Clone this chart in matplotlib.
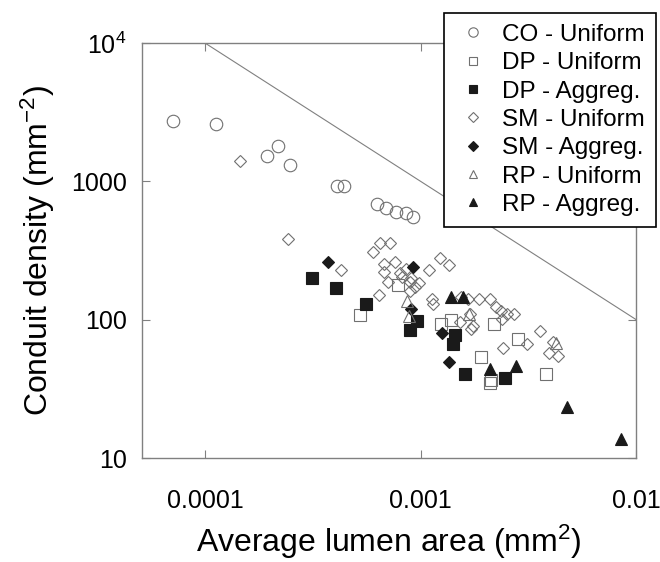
import numpy as np
import matplotlib
matplotlib.use('Agg')
import matplotlib.pyplot as plt
from matplotlib.ticker import FixedLocator, FixedFormatter, NullLocator

plt.rcParams['font.family'] = ['Liberation Sans', 'DejaVu Sans']
plt.rcParams['mathtext.fontset'] = 'custom'
plt.rcParams['mathtext.rm'] = 'Liberation Sans'
plt.rcParams['mathtext.it'] = 'Liberation Sans'

# CO - Uniform
co_uni_x = [7.09e-5, 1.12e-4, 1.93e-4, 2.18e-4, 2.48e-4, 4.11e-4, 4.43e-4,
            6.28e-4, 6.88e-4, 7.66e-4, 8.55e-4, 9.18e-4]
co_uni_y = [2735, 2618, 1517, 1802, 1306, 931, 931, 685, 645, 600, 586, 548]

# DP - Uniform
dp_uni_x = [5.26e-4, 7.88e-4, 1.24e-3, 1.39e-3, 2.18e-3, 2.84e-3, 1.91e-3,
            2.12e-3, 2.10e-3, 3.82e-3]
dp_uni_y = [109, 179, 92.5, 100, 93.5, 72.5, 54, 36.7, 34.6, 40.8]

# DP - Aggreg.
dp_agg_x = [3.14e-4, 4.07e-4, 5.61e-4, 9.61e-4, 8.97e-4, 1.44e-3, 1.41e-3,
            1.60e-3, 2.46e-3]
dp_agg_y = [199, 170, 129, 98.4, 84.7, 77.8, 66.7, 40.8, 37.6]

# SM - Uniform
sm_uni_x = [1.45e-4, 2.42e-4, 4.26e-4, 6.01e-4, 6.48e-4, 7.24e-4, 6.76e-4,
            7.64e-4, 6.74e-4, 7.08e-4, 8.02e-4, 8.59e-4, 6.41e-4, 8.89e-4,
            9.44e-4, 9.79e-4, 1.09e-3, 1.23e-3, 1.36e-3, 1.13e-3, 1.14e-3,
            1.54e-3, 1.66e-3, 1.87e-3, 2.09e-3, 2.24e-3, 2.35e-3, 2.51e-3,
            2.70e-3, 2.38e-3, 1.69e-3, 1.75e-3, 1.71e-3, 1.52e-3, 2.40e-3,
            3.13e-3, 3.58e-3, 4.10e-3, 3.93e-3, 4.35e-3, 8.96e-4, 8.23e-4,
            9.06e-4]
sm_uni_y = [1403, 386, 229, 308, 360, 360, 253, 263, 220, 188, 217, 233,
            150, 186, 171, 185, 229, 280, 249, 141, 130, 145, 141, 140, 140,
            123, 116, 110, 110, 101, 110, 90.5, 85.7, 95.5, 62, 66.7, 82.3,
            68.6, 57, 54.8, 162, 204, 201]

# SM - Aggreg.
sm_agg_x = [3.72e-4, 9.25e-4, 8.99e-4, 1.26e-3, 1.35e-3]
sm_agg_y = [260, 239, 120, 80, 49.6]

# RP - Uniform
rp_uni_x = [8.65e-4, 8.80e-4, 1.67e-3, 4.25e-3]
rp_uni_y = [137, 107, 110, 67.3]

# RP - Aggreg.
rp_agg_x = [1.39e-3, 1.58e-3, 2.09e-3, 2.76e-3, 4.79e-3, 8.52e-3]
rp_agg_y = [147, 147, 44, 46.4, 23.4, 13.7]

# reference line
line_x = [1e-4, 1e-2]
line_y = [1e4, 100]

y_ticks = [10, 100, 1000, 10000]
y_tick_labels = ['10', '100', '1000', r'$\mathregular{10^4}$']
x_ticks = [1e-4, 1e-3, 1e-2]
x_tick_labels = ['0.0001', '0.001', '0.01']

fig = plt.figure(figsize=(6.6, 5.62), dpi=100)
ax = fig.add_axes([0.215, 0.185, 0.749, 0.7385])

gray = '#707070'
dark = '#1a1a1a'

ax.plot(line_x, line_y, color='#808080', lw=0.8, zorder=1)

series = [
    (co_uni_x, co_uni_y, 'o', 'none', gray, 9, 'CO - Uniform'),
    (dp_uni_x, dp_uni_y, 's', 'none', gray, 8.5, 'DP - Uniform'),
    (dp_agg_x, dp_agg_y, 's', dark, dark, 8.5, 'DP - Aggreg.'),
    (sm_uni_x, sm_uni_y, 'D', 'none', gray, 6.5, 'SM - Uniform'),
    (sm_agg_x, sm_agg_y, 'D', dark, dark, 6.5, 'SM - Aggreg.'),
    (rp_uni_x, rp_uni_y, '^', 'none', gray, 8, 'RP - Uniform'),
    (rp_agg_x, rp_agg_y, '^', dark, dark, 8, 'RP - Aggreg.'),
]
for xs, ys, m, fc, ec, ms, lab in series:
    ax.plot(xs, ys, linestyle='none', marker=m, markerfacecolor=fc,
            markeredgecolor=ec, markersize=ms, markeredgewidth=0.8,
            label=lab, zorder=3)

ax.set_xscale('log')
ax.set_yscale('log')
ax.set_xlim(5.1e-5, 1e-2)
ax.set_ylim(10, 1e4)

ax.xaxis.set_major_locator(FixedLocator(x_ticks))
ax.xaxis.set_major_formatter(FixedFormatter(x_tick_labels))
ax.yaxis.set_major_locator(FixedLocator(y_ticks))
ax.yaxis.set_major_formatter(FixedFormatter(y_tick_labels))
ax.xaxis.set_minor_locator(NullLocator())
ax.yaxis.set_minor_locator(NullLocator())

ax.tick_params(axis='both', which='major', direction='in', length=6,
               width=0.8, color='#808080', labelsize=18, top=True, right=True)
ax.tick_params(axis='x', pad=22)
ax.tick_params(axis='y', pad=11)

for sp in ax.spines.values():
    sp.set_color('#808080')
    sp.set_linewidth(1.0)

ax.set_xlabel('Average lumen area (mm$^\\mathregular{2}$)', fontsize=23,
              labelpad=7)
ax.set_ylabel('Conduit density (mm$^\\mathregular{-2}$)', fontsize=23,
              labelpad=10)

leg = fig.legend(loc='upper right', bbox_to_anchor=(0.994, 0.977),
                 fontsize=17.5, frameon=True, fancybox=False, framealpha=1,
                 edgecolor='black', markerscale=0.75, handlelength=1.5,
                 handletextpad=0.45, borderpad=0.45, labelspacing=0.26,
                 borderaxespad=0)
leg.get_frame().set_linewidth(1.2)

fig.savefig('out.png', dpi=100)
